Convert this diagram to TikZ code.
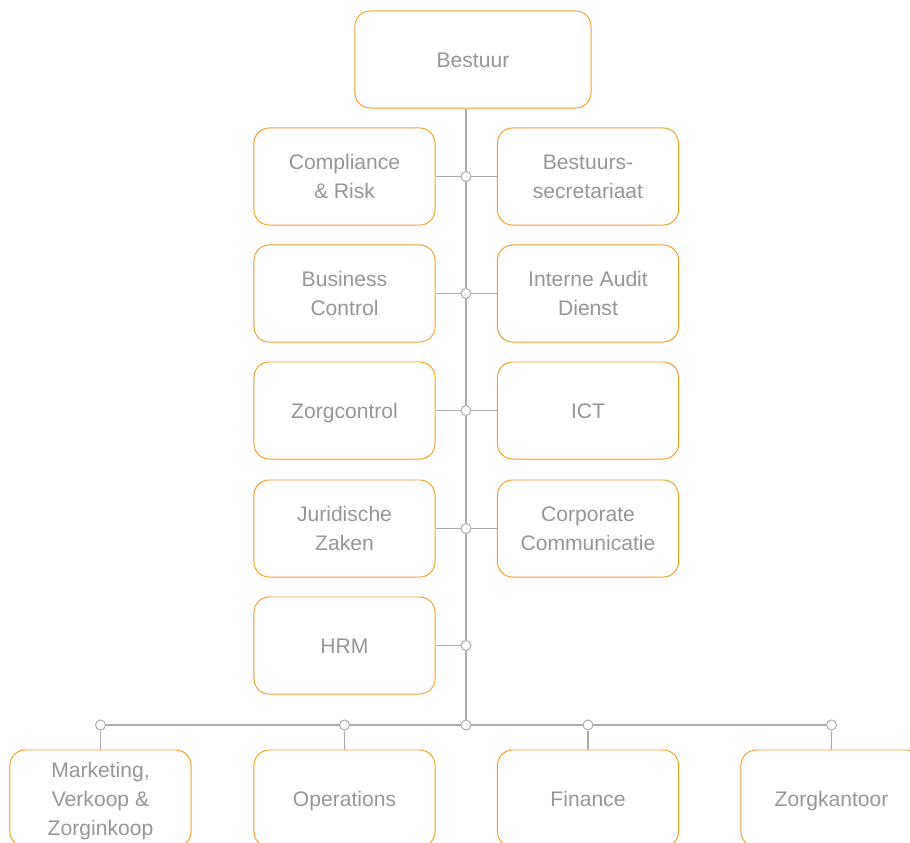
\documentclass[tikz,border=0pt]{standalone}
\usepackage{fontspec}
\setmainfont{Liberation Sans}
\usepackage{xcolor}

\definecolor{boxorange}{RGB}{244,160,40}
\definecolor{linegrey}{RGB}{170,170,170}
\definecolor{textgrey}{RGB}{150,150,150}

\begin{document}
\begin{tikzpicture}
[
  x=0.025cm, y=-0.025cm,
	unit/.style={draw=boxorange,line width=0.7pt,rounded corners=0.38cm,fill=white,
	  minimum width=4.525cm,minimum height=2.425cm,inner sep=0pt,align=center,
	  text=textgrey,font=\fontsize{15}{20.6}\selectfont},
	one/.style={unit,text height=11pt,text depth=0pt},
	top/.style={one,minimum width=5.9cm},
	link/.style={draw=linegrey,line width=0.8pt},
	joint/.style={circle,draw=linegrey,line width=0.7pt,fill=white,minimum size=0.25cm,inner sep=0pt}
]
\useasboundingbox (0,0) rectangle (910,843);
\clip (0,0) rectangle (910,843);

% board
\node[top] (bestuur) at (473,59.5) {Bestuur};

% staff departments
\node[unit] (compliance) at (344.5,176.5) {Compliance\\\& Risk};
\node[unit] (secretariaat) at (588,176.5) {Bestuurs-\\secretariaat};
\node[unit] (bc) at (344.5,293.5) {Business\\Control};
\node[unit] (iad) at (588,293.5) {Interne Audit\\Dienst};
\node[one] (zorgcontrol) at (344.5,410.5) {Zorgcontrol};
\node[one] (ict) at (588,410.5) {ICT};
\node[unit] (juridisch) at (344.5,528.5) {Juridische\\Zaken};
\node[unit] (communicatie) at (588,528.5) {Corporate\\Communicatie};
\node[one] (hrm) at (344.5,645.5) {HRM};

% line departments
\node[unit] (marketing) at (100.5,798.5) {Marketing,\\Verkoop \&\\\smash{Zorginkoop}};
\node[one] (operations) at (344.5,798.5) {Operations};
\node[one] (finance) at (588,798.5) {Finance};
\node[one] (zorgkantoor) at (831.5,798.5) {Zorgkantoor};

% junctions on the trunk
\node[joint] (j1) at (466,176.5) {};
\node[joint] (j2) at (466,293.5) {};
\node[joint] (j3) at (466,410.5) {};
\node[joint] (j4) at (466,528.5) {};
\node[joint] (j5) at (466,645.5) {};
\node[joint] (jb) at (466,725) {};

% junctions on the bus
\node[joint] (b1) at (100.5,725) {};
\node[joint] (b2) at (344.5,725) {};
\node[joint] (b3) at (588,725) {};
\node[joint] (b4) at (831.5,725) {};

\draw [link] (bestuur.south -| j1) -- (j1);
\draw [link] (j1) -- (j2);
\draw [link] (j2) -- (j3);
\draw [link] (j3) -- (j4);
\draw [link] (j4) -- (j5);
\draw [link] (j5) -- (jb);

\draw [link] (j1) -- (compliance);
\draw [link] (j1) -- (secretariaat);
\draw [link] (j2) -- (bc);
\draw [link] (j2) -- (iad);
\draw [link] (j3) -- (zorgcontrol);
\draw [link] (j3) -- (ict);
\draw [link] (j4) -- (juridisch);
\draw [link] (j4) -- (communicatie);
\draw [link] (j5) -- (hrm);

\draw [link] (b1) -- (b2);
\draw [link] (b2) -- (jb);
\draw [link] (jb) -- (b3);
\draw [link] (b3) -- (b4);

\draw [link] (b1) -- (marketing);
\draw [link] (b2) -- (operations);
\draw [link] (b3) -- (finance);
\draw [link] (b4) -- (zorgkantoor);

\end{tikzpicture}
\end{document}
